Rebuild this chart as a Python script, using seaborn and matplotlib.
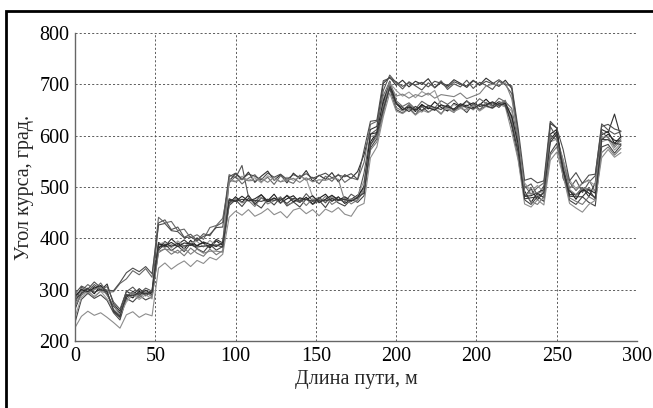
import numpy as np
import pandas as pd
import matplotlib
matplotlib.use('Agg')
import matplotlib.pyplot as plt
from matplotlib.patches import Rectangle
import seaborn as sns

# path positions on the plotted axis (tick units), one value every 4
x_pos = list(range(0, 344, 4))
x_ticks = [0, 50, 100, 150, 200, 250, 300, 350]
x_tick_labels = ['0', '50', '100', '150', '200', '200', '250', '300']
y_ticks = [200, 300, 400, 500, 600, 700, 800]

# heading angle of each run (deg)
run01 = ([262, 294, 303, 292, 308, 296, 258, 246, 290, 284, 297, 288, 295]
         + [380, 394, 383, 391, 379, 396, 385, 392, 381, 395, 386]
         + [468, 481, 470, 484, 466, 479, 473, 486, 469, 477, 483, 470, 480, 467, 478, 486, 472, 481, 468, 476, 484]
         + [498, 588, 606, 662]
         + [706, 664, 650, 659, 647, 661, 652, 666, 655, 648, 663, 657, 668, 654, 660, 671, 658, 666, 662]
         + [636, 572, 492, 470, 488, 479, 603, 612, 536, 494, 476, 497, 488, 479, 602, 608, 585, 598])
run02 = ([284, 301, 292, 306, 299, 311, 272, 258, 297, 290, 302, 291, 299]
         + [392, 384, 399, 388, 397, 386, 401, 390, 384, 398, 391]
         + [512, 526, 514, 529, 509, 521, 531, 513, 524, 508, 527, 516, 532, 511, 523, 515, 528, 510, 524, 517, 530]
         + [563, 612, 618, 702]
         + [714, 698, 708, 695, 706, 700, 711, 693, 704, 697, 709, 702, 694, 707, 699, 712, 703, 696, 708]
         + [692, 604, 481, 497, 475, 490, 624, 615, 517, 492, 484, 499, 481, 508, 612, 606, 642, 597])
run03 = ([236, 281, 293, 283, 290, 279, 255, 241, 283, 276, 289, 280, 286]
         + [377, 389, 376, 385, 374, 390, 380, 373, 388, 377, 384]
         + [464, 475, 462, 478, 468, 459, 476, 465, 480, 463, 471, 461, 477, 466, 474, 460, 479, 469, 463, 476, 470]
         + [483, 576, 594, 648]
         + [692, 651, 644, 655, 641, 657, 646, 653, 642, 659, 649, 656, 645, 662, 651, 658, 664, 655, 667]
         + [618, 556, 475, 466, 481, 472, 566, 585, 527, 474, 466, 481, 470, 463, 578, 583, 566, 581])
run04 = ([272, 305, 296, 310, 301, 306, 276, 262, 296, 305, 292, 303, 297]
         + [430, 436, 417, 422, 402, 408, 396, 409, 405, 424, 431]
         + [524, 518, 542, 481, 470, 485, 473, 479, 468, 484, 475, 470, 487, 473, 480, 469, 483, 476, 471, 486, 478]
         + [527, 603, 612, 688]
         + [718, 703, 691, 705, 697, 689, 703, 694, 707, 690, 701, 695, 708, 692, 704, 698, 690, 706, 699]
         + [682, 593, 498, 506, 484, 502, 618, 596, 553, 497, 514, 489, 509, 522, 623, 611, 603, 608])
run05 = ([289, 298, 310, 300, 313, 295, 296, 312, 321, 337, 329, 341, 324]
         + [441, 430, 433, 415, 418, 401, 407, 398, 421, 425, 439]
         + [508, 521, 506, 517, 524, 510, 519, 505, 522, 512, 507, 523, 513, 519, 506, 521, 511, 525, 509, 518, 514]
         + [548, 622, 628, 678]
         + [706, 668, 657, 664, 652, 667, 659, 654, 668, 661, 670, 656, 667, 660, 672, 663, 659, 673, 666]
         + [653, 588, 503, 486, 499, 508, 602, 591, 548, 509, 493, 507, 514, 491, 607, 596, 581, 594])
run06 = ([268, 289, 298, 286, 297, 293, 260, 249, 281, 293, 284, 295, 286]
         + [372, 380, 369, 377, 366, 381, 371, 365, 379, 368, 376]
         + [466, 478, 469, 474, 462, 480, 467, 473, 481, 465, 470, 478, 464, 477, 469, 482, 466, 474, 479, 467, 475]
         + [492, 572, 588, 643]
         + [697, 655, 648, 661, 650, 646, 658, 649, 660, 652, 645, 662, 653, 658, 650, 665, 656, 662, 669]
         + [628, 566, 486, 472, 466, 481, 562, 578, 532, 479, 472, 466, 481, 474, 567, 578, 562, 575])
run07 = ([226, 248, 258, 250, 255, 246, 236, 225, 251, 257, 246, 253, 249]
         + [342, 352, 340, 349, 356, 345, 357, 351, 363, 358, 369]
         + [441, 453, 445, 456, 443, 449, 458, 446, 452, 440, 455, 459, 448, 456, 444, 457, 451, 460, 447, 443, 462]
         + [468, 557, 578, 637]
         + [683, 648, 643, 652, 640, 650, 645, 654, 643, 655, 647, 653, 650, 658, 648, 657, 654, 661, 656]
         + [607, 552, 467, 461, 475, 465, 552, 568, 522, 468, 459, 451, 466, 474, 557, 573, 558, 567])
run08 = ([247, 285, 295, 287, 297, 282, 262, 250, 276, 290, 281, 290, 282]
         + [388, 393, 381, 395, 385, 391, 394, 383, 396, 386, 393]
         + [516, 511, 521, 513, 518, 508, 522, 515, 510, 519, 513, 520, 516, 481, 471, 476, 482, 473, 479, 474, 482]
         + [512, 598, 602, 672]
         + [703, 688, 677, 685, 674, 686, 679, 688, 659, 651, 661, 653, 660, 650, 662, 657, 653, 664, 660]
         + [648, 562, 508, 492, 503, 489, 588, 593, 552, 513, 497, 508, 512, 503, 588, 593, 572, 585])
run09 = ([288, 300, 296, 303, 308, 290, 268, 254, 285, 297, 289, 299, 290]
         + [389, 386, 392, 384, 391, 389, 386, 393, 388, 384, 392]
         + [477, 472, 482, 473, 477, 485, 471, 478, 474, 483, 471, 479, 475, 483, 470, 476, 484, 474, 481, 473, 479]
         + [502, 603, 606, 668]
         + [700, 662, 651, 656, 650, 659, 654, 650, 660, 656, 652, 662, 658, 664, 657, 660, 666, 659, 663]
         + [638, 583, 482, 483, 489, 495, 592, 608, 532, 485, 485, 493, 495, 488, 592, 603, 591, 589])
run10 = ([292, 307, 301, 315, 304, 299, 298, 314, 333, 342, 335, 345, 331]
         + [426, 429, 415, 413, 401, 403, 395, 404, 408, 421, 422]
         + [520, 527, 516, 525, 521, 514, 527, 519, 525, 515, 524, 519, 526, 517, 522, 527, 518, 523, 520, 526, 515]
         + [572, 628, 630, 707]
         + [712, 705, 696, 703, 699, 704, 695, 706, 702, 694, 705, 700, 697, 708, 698, 706, 701, 709, 700]
         + [697, 613, 513, 517, 508, 512, 628, 615, 573, 512, 528, 507, 523, 525, 618, 622, 613, 609])
run11 = ([266, 297, 294, 300, 305, 289, 270, 251, 289, 295, 287, 296, 288]
         + [375, 379, 377, 371, 381, 369, 379, 371, 375, 375, 373]
         + [513, 510, 516, 512, 513, 517, 509, 519, 510, 513, 517, 509, 518, 510, 514, 513, 517, 515, 473, 477, 474]
         + [497, 582, 598, 657]
         + [701, 677, 681, 673, 680, 676, 683, 673, 680, 678, 676, 683, 672, 677, 682, 697, 700, 699, 703]
         + [672, 598, 487, 487, 489, 491, 597, 593, 547, 495, 485, 498, 497, 493, 597, 598, 577, 591])
run12 = ([281, 292, 302, 295, 300, 296, 260, 248, 290, 288, 294, 292, 295]
         + [385, 383, 387, 385, 385, 387, 383, 385, 385, 387, 383]
         + [474, 472, 476, 474, 474, 472, 476, 474, 477, 468, 478, 474, 476, 472, 475, 473, 477, 474, 476, 472, 480]
         + [488, 582, 603, 652]
         + [694, 663, 655, 647, 657, 649, 659, 655, 651, 660, 650, 659, 656, 652, 661, 658, 654, 663, 659]
         + [622, 568, 477, 479, 481, 489, 587, 603, 537, 482, 481, 481, 495, 477, 593, 592, 585, 583])

runs = [run01, run02, run03, run04, run05, run06, run07, run08, run09, run10, run11, run12]
grays = ['#1a1a1a', '#303030', '#444444', '#555555', '#666666', '#777777',
         '#8c8c8c', '#999999', '#262626', '#4d4d4d', '#808080', '#3a3a3a']

frames = []
for i, r in enumerate(runs):
    frames.append(pd.DataFrame({'x': x_pos, 'angle': r, 'run': f'r{i+1}'}))
df = pd.concat(frames, ignore_index=True)

sns.set_style('white')
plt.rcParams['font.family'] = ['Liberation Serif', 'DejaVu Serif']

fig = plt.figure(figsize=(6.53, 4.08), dpi=100)
ax = fig.add_axes([75 / 653, 67 / 408, 562 / 653, 308 / 408])

sns.lineplot(data=df, x='x', y='angle', hue='run', palette=grays,
             estimator=None, legend=False, linewidth=0.8, ax=ax)

ax.set_xlim(0, 350)
ax.set_ylim(200, 800)
ax.set_xticks(x_ticks)
ax.set_xticklabels(x_tick_labels)
ax.set_yticks(y_ticks)
ax.grid(True, color='#444444', linestyle=(0, (2.5, 2.5)), linewidth=0.6)
ax.tick_params(direction='in', length=4, labelsize=14.5, pad=4,
               color='#666666', labelcolor='black')
for s in ['top', 'right']:
    ax.spines[s].set_visible(False)
for s in ['left', 'bottom']:
    ax.spines[s].set_color('#666666')
    ax.spines[s].set_linewidth(1.0)
ax.set_xlabel('Длина пути, м', fontsize=14.5, labelpad=3)
ax.set_ylabel('Угол курса, град.', fontsize=14.5, labelpad=4)

# black frame around the figure (top and left edges visible)
fig.add_artist(Rectangle((6 / 653, -0.2), 1.5, 0.2 + (408 - 10.5) / 408,
                         transform=fig.transFigure, fill=False,
                         edgecolor='black', linewidth=2))

fig.savefig('out.png', dpi=100)
